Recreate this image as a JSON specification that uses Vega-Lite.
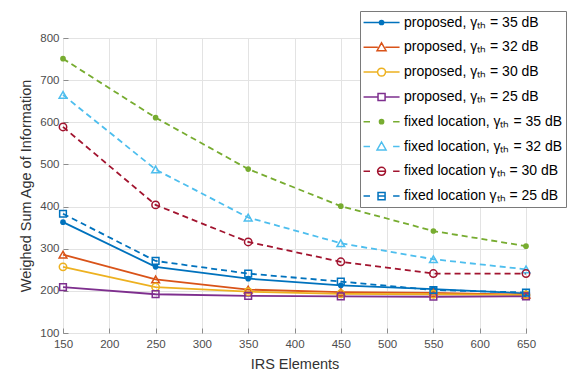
{
  "$schema": "https://vega.github.io/schema/vega-lite/v6.json",
  "width": 463,
  "height": 295,
  "padding": {"left": 18, "top": 10, "right": 5, "bottom": 5},
  "background": "white",
  "resolve": {"legend": {"color": "independent"}},
  "config": {
    "font": "Liberation Sans",
    "view": {"stroke": "#8c8c8c", "strokeWidth": 1},
    "axis": {
      "domain": false,
      "grid": true,
      "gridColor": "#e3e3e3",
      "gridWidth": 1,
      "tickColor": "#8c8c8c",
      "tickSize": -5,
      "labelPadding": 9,
      "labelFlush": false,
      "labelFont": "Liberation Sans",
      "labelFontSize": 11.5,
      "labelColor": "#4d4d4d",
      "titleFont": "Liberation Sans",
      "titleFontSize": 14.5,
      "titleFontWeight": "normal",
      "titleColor": "#333333"
    }
  },
  "data": {
    "values": [
      {"series": "proposed, γₜₕ = 35 dB", "x": 150, "y": 363},
      {"series": "proposed, γₜₕ = 35 dB", "x": 250, "y": 257},
      {"series": "proposed, γₜₕ = 35 dB", "x": 350, "y": 229},
      {"series": "proposed, γₜₕ = 35 dB", "x": 450, "y": 213},
      {"series": "proposed, γₜₕ = 35 dB", "x": 550, "y": 204},
      {"series": "proposed, γₜₕ = 35 dB", "x": 650, "y": 194},
      {"series": "proposed, γₜₕ = 32 dB", "x": 150, "y": 286},
      {"series": "proposed, γₜₕ = 32 dB", "x": 250, "y": 227},
      {"series": "proposed, γₜₕ = 32 dB", "x": 350, "y": 203},
      {"series": "proposed, γₜₕ = 32 dB", "x": 450, "y": 197},
      {"series": "proposed, γₜₕ = 32 dB", "x": 550, "y": 195},
      {"series": "proposed, γₜₕ = 32 dB", "x": 650, "y": 191},
      {"series": "proposed, γₜₕ = 30 dB", "x": 150, "y": 257},
      {"series": "proposed, γₜₕ = 30 dB", "x": 250, "y": 209},
      {"series": "proposed, γₜₕ = 30 dB", "x": 350, "y": 198},
      {"series": "proposed, γₜₕ = 30 dB", "x": 450, "y": 193},
      {"series": "proposed, γₜₕ = 30 dB", "x": 550, "y": 192},
      {"series": "proposed, γₜₕ = 30 dB", "x": 650, "y": 190},
      {"series": "proposed, γₜₕ = 25 dB", "x": 150, "y": 209},
      {"series": "proposed, γₜₕ = 25 dB", "x": 250, "y": 192},
      {"series": "proposed, γₜₕ = 25 dB", "x": 350, "y": 188},
      {"series": "proposed, γₜₕ = 25 dB", "x": 450, "y": 187},
      {"series": "proposed, γₜₕ = 25 dB", "x": 550, "y": 186},
      {"series": "proposed, γₜₕ = 25 dB", "x": 650, "y": 187},
      {"series": "fixed location, γₜₕ = 35 dB", "x": 150, "y": 751},
      {"series": "fixed location, γₜₕ = 35 dB", "x": 250, "y": 611},
      {"series": "fixed location, γₜₕ = 35 dB", "x": 350, "y": 489},
      {"series": "fixed location, γₜₕ = 35 dB", "x": 450, "y": 401},
      {"series": "fixed location, γₜₕ = 35 dB", "x": 550, "y": 342},
      {"series": "fixed location, γₜₕ = 35 dB", "x": 650, "y": 306},
      {"series": "fixed location, γₜₕ = 32 dB", "x": 150, "y": 665},
      {"series": "fixed location, γₜₕ = 32 dB", "x": 250, "y": 488},
      {"series": "fixed location, γₜₕ = 32 dB", "x": 350, "y": 374},
      {"series": "fixed location, γₜₕ = 32 dB", "x": 450, "y": 313},
      {"series": "fixed location, γₜₕ = 32 dB", "x": 550, "y": 275},
      {"series": "fixed location, γₜₕ = 32 dB", "x": 650, "y": 251},
      {"series": "fixed location γₜₕ = 30 dB", "x": 150, "y": 589},
      {"series": "fixed location γₜₕ = 30 dB", "x": 250, "y": 404},
      {"series": "fixed location γₜₕ = 30 dB", "x": 350, "y": 316},
      {"series": "fixed location γₜₕ = 30 dB", "x": 450, "y": 269},
      {"series": "fixed location γₜₕ = 30 dB", "x": 550, "y": 241},
      {"series": "fixed location γₜₕ = 30 dB", "x": 650, "y": 241},
      {"series": "fixed location γₜₕ = 25 dB", "x": 150, "y": 383},
      {"series": "fixed location γₜₕ = 25 dB", "x": 250, "y": 271},
      {"series": "fixed location γₜₕ = 25 dB", "x": 350, "y": 241},
      {"series": "fixed location γₜₕ = 25 dB", "x": 450, "y": 222},
      {"series": "fixed location γₜₕ = 25 dB", "x": 550, "y": 202},
      {"series": "fixed location γₜₕ = 25 dB", "x": 650, "y": 196}
    ]
  },
  "encoding": {
    "x": {
      "field": "x", "type": "quantitative",
      "scale": {"domain": [150, 650], "nice": false, "zero": false},
      "axis": {"values": [150, 200, 250, 300, 350, 400, 450, 500, 550, 600, 650], "title": "IRS Elements", "titlePadding": 8, "labelPadding": 10}
    },
    "y": {
      "field": "y", "type": "quantitative",
      "scale": {"domain": [100, 800], "nice": false, "zero": false},
      "axis": {"values": [100, 200, 300, 400, 500, 600, 700, 800], "title": "Weighed Sum Age of Information", "titlePadding": 6}
    }
  },
  "layer": [
    {
      "transform": [{"filter": "indexof(datum.series, 'proposed') >= 0"}],
      "mark": {"type": "line", "strokeWidth": 1.8},
      "encoding": {
        "color": {
          "field": "series", "type": "nominal",
          "scale": {
            "domain": ["proposed, γₜₕ = 35 dB", "proposed, γₜₕ = 32 dB", "proposed, γₜₕ = 30 dB", "proposed, γₜₕ = 25 dB", "fixed location, γₜₕ = 35 dB", "fixed location, γₜₕ = 32 dB", "fixed location γₜₕ = 30 dB", "fixed location γₜₕ = 25 dB"],
            "range": ["#0072BD", "#D95319", "#EDB120", "#7E2F8E", "#77AC30", "#4DBEEE", "#A2142F", "#0072BD"]
          },
          "legend": {
            "title": null,
            "orient": "none",
            "legendX": 297,
            "legendY": -27,
            "fillColor": "white",
            "strokeColor": "#7a7a7a",
            "padding": 3,
            "labelFont": "Liberation Sans",
            "labelFontSize": 14,
            "labelColor": "#000000",
            "labelLimit": 300,
            "labelOffset": 24,
            "rowPadding": 8.8,
            "symbolSize": 225,
            "symbolStrokeWidth": 1.5,
            "symbolType": "M-1,0H1",
            "encode": {
              "symbols": {
                "update": {
                  "shape": {"signal": "datum.value == 'proposed, γₜₕ = 35 dB' ? 'M-1.06,0H3.74M1.22,0A0.12,0.12,0,1,1,1.46,0A0.12,0.12,0,1,1,1.22,0M1.06,0A0.28,0.28,0,1,1,1.62,0A0.28,0.28,0,1,1,1.06,0' : datum.value == 'proposed, γₜₕ = 32 dB' ? 'M-1.06,0H0.84M1.84,0H3.74M1.34,-0.6L1.94,0.45L0.74,0.45Z' : datum.value == 'proposed, γₜₕ = 30 dB' ? 'M-1.06,0H0.81M1.87,0H3.74M0.81,0A0.53,0.53,0,1,1,1.87,0A0.53,0.53,0,1,1,0.81,0' : datum.value == 'proposed, γₜₕ = 25 dB' ? 'M-1.06,0H0.87M1.81,0H3.74M0.87,-0.47H1.81V0.47H0.87Z' : datum.value == 'fixed location, γₜₕ = 35 dB' ? 'M-1.06,0H-0.2M2.88,0H3.74M1.22,0A0.12,0.12,0,1,1,1.46,0A0.12,0.12,0,1,1,1.22,0M1.06,0A0.28,0.28,0,1,1,1.62,0A0.28,0.28,0,1,1,1.06,0' : datum.value == 'fixed location, γₜₕ = 32 dB' ? 'M-1.06,0H-0.2M2.88,0H3.74M1.34,-0.6L1.94,0.45L0.74,0.45Z' : datum.value == 'fixed location γₜₕ = 30 dB' ? 'M-1.06,0H-0.2M2.88,0H3.74M0.81,0H1.87M0.81,0A0.53,0.53,0,1,1,1.87,0A0.53,0.53,0,1,1,0.81,0' : 'M-1.06,0H-0.2M2.88,0H3.74M0.87,0H1.81M0.87,-0.47H1.81V0.47H0.87Z'"},
                  "fill": {"value": "transparent"},
                  "size": {"value": 225},
                  "strokeWidth": {"value": 1.5},
                  "opacity": {"value": 1}
                }
              }
            }
          }
        }
      }
    },
    {
      "transform": [{"filter": "indexof(datum.series, 'fixed') >= 0"}],
      "mark": {"type": "line", "strokeWidth": 1.8, "strokeDash": [6, 4]},
      "encoding": {"color": {"field": "series", "type": "nominal", "legend": null}}
    },
    {
      "transform": [{"filter": "indexof(datum.series, '35 dB') >= 0"}],
      "mark": {"type": "point", "filled": true, "size": 32, "opacity": 1},
      "encoding": {"color": {"field": "series", "type": "nominal", "legend": null}}
    },
    {
      "transform": [{"filter": "indexof(datum.series, '32 dB') >= 0"}],
      "mark": {"type": "point", "shape": "triangle-up", "filled": false, "strokeWidth": 1.5, "size": 60, "opacity": 1},
      "encoding": {"color": {"field": "series", "type": "nominal", "legend": null}}
    },
    {
      "transform": [{"filter": "indexof(datum.series, '30 dB') >= 0"}],
      "mark": {"type": "point", "shape": "circle", "filled": false, "strokeWidth": 1.5, "size": 55, "opacity": 1},
      "encoding": {"color": {"field": "series", "type": "nominal", "legend": null}}
    },
    {
      "transform": [{"filter": "indexof(datum.series, '25 dB') >= 0"}],
      "mark": {"type": "point", "shape": "square", "filled": false, "strokeWidth": 1.5, "size": 45, "opacity": 1},
      "encoding": {"color": {"field": "series", "type": "nominal", "legend": null}}
    }
  ]
}
